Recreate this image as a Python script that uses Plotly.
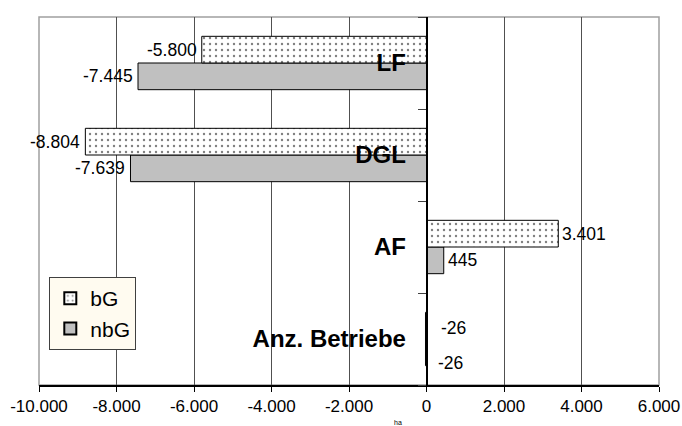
import plotly.graph_objects as go

categories = ["LF", "DGL", "AF", "Anz. Betriebe"]
bG = [-5800, -8804, 3401, -26]
nbG = [-7445, -7639, 445, -26]
tick_vals = [-10000, -8000, -6000, -4000, -2000, 0, 2000, 4000, 6000]
tick_text = ["-10.000", "-8.000", "-6.000", "-4.000", "-2.000", "0", "2.000", "4.000", "6.000"]
axis_title = "ha"


def fmt(v):
    return f"{v:,}".replace(",", ".")


FONT = "Liberation Sans, Arial, sans-serif"
L, R, T, B = 39, 23, 16.5, 40.5
W, H = 682, 426
pw, ph = W - L - R, H - T - B

fig = go.Figure()
fig.add_trace(go.Bar(
    name="nbG", y=categories, x=nbG, orientation="h",
    marker=dict(color="#C0C0C0", line=dict(color="#000000", width=1)),
))
fig.add_trace(go.Bar(
    name="bG", y=categories, x=bG, orientation="h",
    marker=dict(color="#FFFFFF", line=dict(color="#000000", width=1),
                pattern=dict(shape=".", fgcolor="#000000", bgcolor="#FFFFFF",
                             size=6, solidity=0.12)),
))

annotations = []
LBL = 17.5
for vals, sign in ((bG, 1), (nbG, -1)):
    for cat, v in zip(categories, vals):
        if abs(v) < 500 and v < 0:
            annotations.append(dict(
                x=0, y=cat, xref="x", yref="y", text=fmt(v), showarrow=False,
                xanchor="left", xshift=12 if sign > 0 else 9,
                yshift=11.5 if sign > 0 else -23.5,
                font=dict(size=LBL, color="#000000", family=FONT)))
        else:
            annotations.append(dict(
                x=v, y=cat, xref="x", yref="y", text=fmt(v), showarrow=False,
                xanchor="right" if v < 0 else "left",
                xshift=-3 if v < 0 else 2,
                yshift=13.4 * sign,
                font=dict(size=LBL, color="#000000", family=FONT)))

annotations.append(dict(
    x=(398 - L) / pw, y=-(423 - (H - B)) / ph, xref="paper", yref="paper",
    text=axis_title, showarrow=False, xanchor="center", yanchor="middle",
    font=dict(size=7, color="#000000", family=FONT)))

zero_pos = (0 - (-10000)) / 16000

fig.update_layout(
    width=W, height=H,
    margin=dict(l=L, r=R, t=T, b=B, pad=0, autoexpand=False),
    paper_bgcolor="#FFFFFF", plot_bgcolor="#FFFFFF",
    font=dict(family=FONT, color="#000000"),
    barmode="group", bargap=0.42, bargroupgap=0,
    showlegend=True,
    legend=dict(
        x=(49.3 - L) / pw, y=(H - B - 277.3) / ph, xanchor="left", yanchor="top",
        bgcolor="#FFFBF0", bordercolor="#404040", borderwidth=1,
        traceorder="reversed", font=dict(size=21, family=FONT),
        itemsizing="constant", itemwidth=30, tracegroupgap=0,
    ),
    annotations=annotations,
    shapes=[dict(type="rect", xref="paper", yref="paper", x0=0, x1=1, y0=0, y1=1,
                 line=dict(color="#A0A0A0", width=1.5), layer="below")],
    xaxis=dict(
        range=[-10000, 6000], tickvals=tick_vals, ticktext=tick_text,
        showgrid=True, gridcolor="#505050", gridwidth=1,
        zeroline=False, showline=True, linecolor="#000000", linewidth=1.5,
        ticks="outside", ticklen=5, tickcolor="#000000",
        tickfont=dict(size=17, family=FONT, color="#000000"),
        automargin=False, fixedrange=True,
    ),
    yaxis=dict(
        type="category", categoryorder="array",
        categoryarray=list(reversed(categories)),
        anchor="free", position=zero_pos, side="left",
        showline=True, linecolor="#000000", linewidth=1.5,
        ticks="outside", ticklen=8, tickcolor="#404040", tickson="boundaries",
        showgrid=False, zeroline=False,
        ticklabelstandoff=15,
        tickfont=dict(size=24, family=FONT, color="#000000", weight="bold"),
        automargin=False, fixedrange=True,
    ),
)

fig.write_html("out.html")
